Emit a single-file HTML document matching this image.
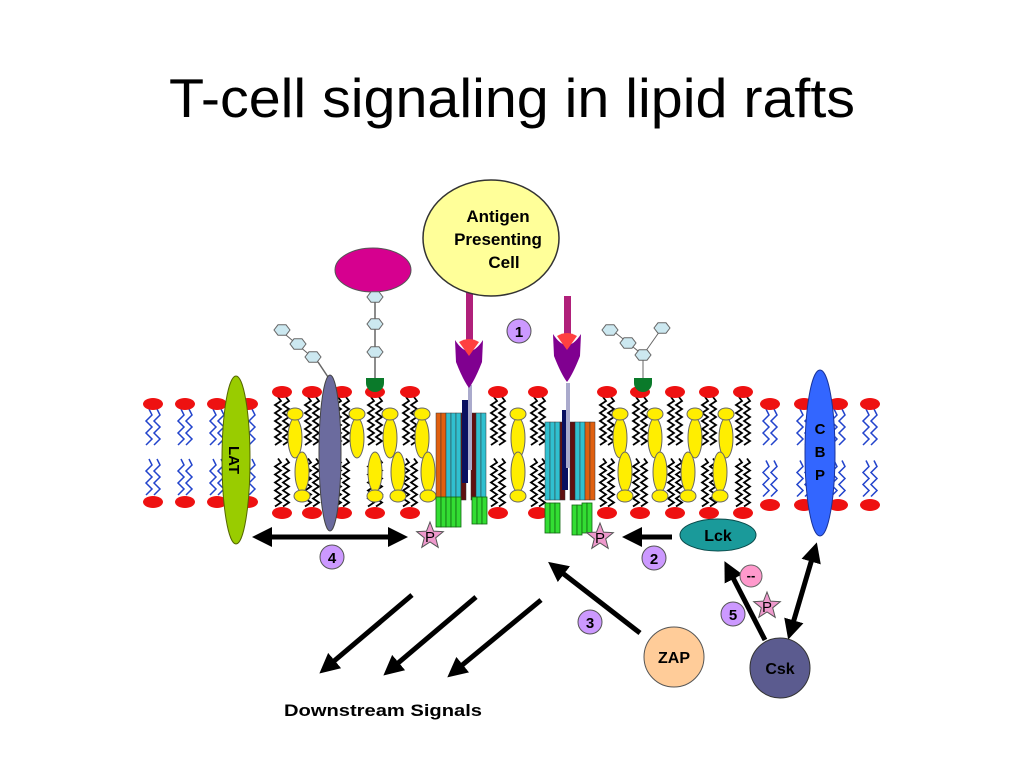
<!DOCTYPE html>
<html><head><meta charset="utf-8"><style>
html,body{margin:0;padding:0;background:#fff;width:1024px;height:768px;overflow:hidden}
svg{display:block}
text{font-family:"Liberation Sans",Arial,sans-serif}
</style></head><body>
<svg id="s" width="1024" height="768" viewBox="0 0 1024 768" xmlns="http://www.w3.org/2000/svg">
<defs>
<marker id="ah" markerWidth="4" markerHeight="4" refX="2" refY="2" orient="auto" markerUnits="strokeWidth"><path d="M0,0 L4,2 L0,4 z" fill="#000"/></marker>
<marker id="ahs" markerWidth="4" markerHeight="4" refX="2" refY="2" orient="auto-start-reverse" markerUnits="strokeWidth"><path d="M0,0 L4,2 L0,4 z" fill="#000"/></marker>
</defs>
<text x="512" y="117" font-size="55" text-anchor="middle" fill="#000" textLength="686" lengthAdjust="spacingAndGlyphs">T-cell signaling in lipid rafts</text>
<g id="lip"></g>
<rect x="466" y="292" width="7" height="52" fill="#b0207a"/>
<rect x="564" y="296" width="7" height="46" fill="#b0207a"/>
<ellipse cx="491" cy="238" rx="68" ry="58" fill="#ffff99" stroke="#333" stroke-width="1.5"/>
<text x="498" y="222" font-size="17" font-weight="bold" text-anchor="middle">Antigen</text>
<text x="498" y="245" font-size="17" font-weight="bold" text-anchor="middle">Presenting</text>
<text x="504" y="268" font-size="17" font-weight="bold" text-anchor="middle">Cell</text>
<g id="rec"></g>
<line x1="375" y1="290" x2="375" y2="380" stroke="#666" stroke-width="1.5"/>
<ellipse cx="373" cy="270" rx="38" ry="22" fill="#d6008f" stroke="#555"/>
<path d="M366,378 h18 v5 a9,9 0 0 1 -18,0 z" fill="#0a7a2a"/>
<path d="M634,378 h18 v5 a9,9 0 0 1 -18,0 z" fill="#0a7a2a"/>
<g id="hex"></g>
<ellipse cx="236" cy="460" rx="14" ry="84" fill="#99cc00" stroke="#556600"/>
<text transform="translate(229,460) rotate(90)" font-size="15" font-weight="bold" text-anchor="middle">LAT</text>
<line x1="330" y1="380" x2="318" y2="362" stroke="#666" stroke-width="1.5"/>
<ellipse cx="330" cy="453" rx="11" ry="78" fill="#6b6b9e" stroke="#444"/>
<ellipse cx="820" cy="453" rx="15" ry="83" fill="#3366ff" stroke="#1a3399"/>
<text x="820" y="434" font-size="15" font-weight="bold" text-anchor="middle">C</text>
<text x="820" y="457" font-size="15" font-weight="bold" text-anchor="middle">B</text>
<text x="820" y="480" font-size="15" font-weight="bold" text-anchor="middle">P</text>
<g stroke="#000" fill="none">
<line x1="262" y1="537" x2="398" y2="537" stroke-width="5" marker-start="url(#ahs)" marker-end="url(#ah)"/>
<line x1="672" y1="537" x2="632" y2="537" stroke-width="5" marker-end="url(#ah)"/>
<line x1="640" y1="633" x2="556" y2="568" stroke-width="5" marker-end="url(#ah)"/>
<line x1="765" y1="640" x2="729" y2="570" stroke-width="5" marker-end="url(#ah)"/>
<line x1="791" y1="630" x2="814" y2="552" stroke-width="5" marker-start="url(#ahs)" marker-end="url(#ah)"/>
<line x1="412" y1="595" x2="327" y2="667" stroke-width="5" marker-end="url(#ah)"/>
<line x1="476" y1="597" x2="391" y2="669" stroke-width="5" marker-end="url(#ah)"/>
<line x1="541" y1="600" x2="455" y2="671" stroke-width="5" marker-end="url(#ah)"/>
</g>
<ellipse cx="718" cy="535" rx="38" ry="16" fill="#1a9a9a" stroke="#0a4a4a"/>
<text x="718" y="541" font-size="16" font-weight="bold" text-anchor="middle">Lck</text>
<circle cx="674" cy="657" r="30" fill="#ffcc99" stroke="#555"/>
<text x="674" y="663" font-size="16" font-weight="bold" text-anchor="middle">ZAP</text>
<circle cx="780" cy="668" r="30" fill="#5b5b8f" stroke="#333"/>
<text x="780" y="674" font-size="16" font-weight="bold" text-anchor="middle">Csk</text>
<circle cx="751" cy="576" r="11" fill="#ff99cc" stroke="#666"/>
<text x="751" y="580" font-size="13" font-weight="bold" text-anchor="middle">--</text>
<g id="nums"></g>
<text x="383" y="716" font-size="17" font-weight="bold" text-anchor="middle" textLength="198" lengthAdjust="spacingAndGlyphs">Downstream Signals</text>
</svg>
<script>
var NS="http://www.w3.org/2000/svg";
function el(p,t,a){var e=document.createElementNS(NS,t);for(var k in a)e.setAttribute(k,a[k]);document.getElementById(p).appendChild(e);return e;}
function zig(x,y1,y2,amp,step){var d="M"+x+","+y1,s=1;for(var y=y1+step;y<=y2;y+=step){d+=" L"+(x+amp*s)+","+y;s=-s;}return d;}
function lipid(x,top,bot,blue){
 var col=blue?"#2244cc":"#000";var mid=(top+bot)/2;
 [-4,4].forEach(function(o){
  el("lip","path",{d:zig(x+o,top+5,mid-6,3,blue?6:4),stroke:col,"stroke-width":blue?1.5:1.8,fill:"none"});
  el("lip","path",{d:zig(x+o,mid+6,bot-5,3,blue?6:4),stroke:col,"stroke-width":blue?1.5:1.8,fill:"none"});
 });
 el("lip","ellipse",{cx:x,cy:top,rx:10,ry:6,fill:"#ee1111"});
 el("lip","ellipse",{cx:x,cy:bot,rx:10,ry:6,fill:"#ee1111"});
}
[153,185,217,248].forEach(function(x){lipid(x,404,502,true)});
[770,804,838,870].forEach(function(x){lipid(x,404,505,true)});
[282,312,342,375,410,498,538,607,640,675,709,743].forEach(function(x){lipid(x,392,513,false)});
function chol(x,y,up){
 el("lip","ellipse",{cx:x,cy:y,rx:7,ry:20,fill:"#ffee00",stroke:"#666"});
 el("lip","ellipse",{cx:x,cy:up?y-24:y+24,rx:8,ry:6,fill:"#ffee00",stroke:"#666"});
}
[295,357,390,422,518,620,655,695,726].forEach(function(x){chol(x,438,true)});
[302,375,398,428,518,625,660,688,720].forEach(function(x){chol(x,472,false)});
function bars(x0,ys,cols){var x=x0;cols.forEach(function(c){el("rec","rect",{x:x,y:ys,width:5,height:500-ys,fill:c,stroke:"#333","stroke-width":0.5});x+=5;});}
bars(436,413,["#e06010","#e06010","#30c0d0","#30c0d0","#30c0d0","#601010"]);
bars(471,413,["#601010","#30c0d0","#30c0d0"]);
bars(545,422,["#30c0d0","#30c0d0","#30c0d0","#601010"]);
bars(570,422,["#601010","#30c0d0","#30c0d0","#e06010","#e06010"]);
el("rec","rect",{x:462,y:400,width:6,height:83,fill:"#0a1060"});
el("rec","rect",{x:562,y:410,width:6,height:80,fill:"#0a1060"});
el("rec","rect",{x:468,y:385,width:4,height:85,fill:"#aac"});
el("rec","rect",{x:566,y:383,width:4,height:85,fill:"#aac"});
[[436,497,30],[441,497,30],[446,497,30],[451,497,30],[456,497,30],[472,497,27],[477,497,27],[482,497,27],[545,503,30],[550,503,30],[555,503,30],[572,505,30],[577,505,30],[582,503,30],[587,503,30]].forEach(function(a){el("rec","rect",{x:a[0],y:a[1],width:5,height:a[2],fill:"#33dd33",stroke:"#116611","stroke-width":0.8});});
function cup(cx,top){
 el("rec","path",{d:"M"+(cx-14)+","+top+" Q"+cx+","+(top+22)+" "+(cx+14)+","+top+" L"+(cx+13)+","+(top+22)+" Q"+(cx+6)+","+(top+40)+" "+cx+","+(top+48)+" Q"+(cx-6)+","+(top+40)+" "+(cx-13)+","+(top+22)+" z",fill:"#800090"});
 el("rec","path",{d:"M"+(cx-10)+","+(top+2)+" Q"+cx+","+(top-4)+" "+(cx+10)+","+(top+2)+" L"+cx+","+(top+16)+" z",fill:"#ff4040"});
}
cup(469,340);cup(567,334);
function hex(x,y){var d="";for(var i=0;i<6;i++){var a=Math.PI/3*i;d+=(i?"L":"M")+(x+8*Math.cos(a))+","+(y+6*Math.sin(a));}el("hex","path",{d:d+"z",fill:"#cce8f0",stroke:"#666"});}
[[375,297],[375,324],[375,352]].forEach(function(p){hex(p[0],p[1])});
el("hex","path",{d:"M318,362 L280,330",stroke:"#666",fill:"none"});
[[313,357],[298,344],[282,330]].forEach(function(p){hex(p[0],p[1])});
el("hex","path",{d:"M643,378 L643,355 L612,330 M643,355 L662,328",stroke:"#666",fill:"none"});
[[643,355],[628,343],[610,330],[662,328]].forEach(function(p){hex(p[0],p[1])});
function star(cx,cy){var d="";for(var i=0;i<10;i++){var r=i%2?6:14,a=-Math.PI/2+i*Math.PI/5;d+=(i?"L":"M")+(cx+r*Math.cos(a))+","+(cy+r*Math.sin(a));}el("nums","path",{d:d+"z",fill:"#ee99cc",stroke:"#555"});var t=el("nums","text",{x:cx,y:cy+6,"font-size":15,"text-anchor":"middle"});t.textContent="P";}
star(430,536);star(600,537);star(767,606);
function num(x,y,n){el("nums","circle",{cx:x,cy:y,r:12,fill:"#cc99ff",stroke:"#555"});var t=el("nums","text",{x:x,y:y+6,"font-size":15,"font-weight":"bold","text-anchor":"middle"});t.textContent=n;}
num(519,331,"1");num(654,558,"2");num(590,622,"3");num(332,557,"4");num(733,614,"5");
</script>
</body></html>
